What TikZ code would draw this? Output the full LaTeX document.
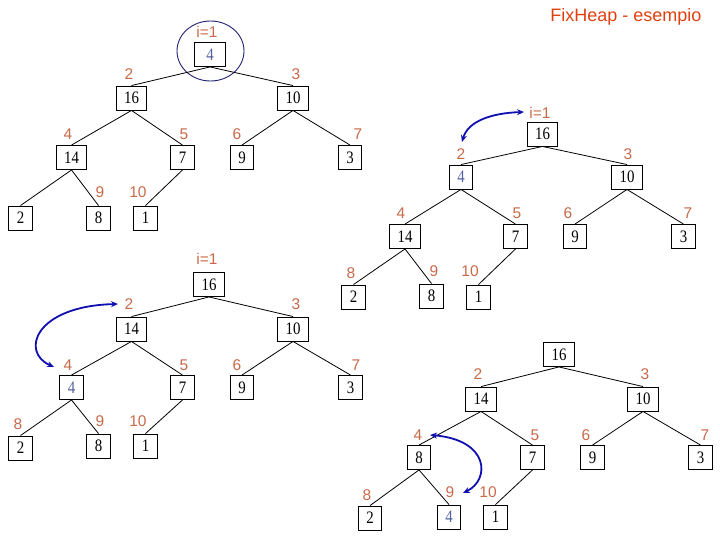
\documentclass[tikz,border=0pt]{standalone}
\usepackage{fontspec}
\usetikzlibrary{arrows.meta}
\newfontfamily\boxfont[FakeStretch=0.85]{Liberation Serif}
\newfontfamily\labfont{Liberation Sans}
\definecolor{labc}{HTML}{C86A4A}
\definecolor{titc}{HTML}{E04010}
\definecolor{keyc}{HTML}{5060A0}
\definecolor{arrc}{HTML}{1010B0}
\definecolor{circc}{HTML}{202070}
\tikzset{
  bx/.style={draw, line width=0.9pt, font=\boxfont\fontsize{17.5}{17.5}\selectfont,
    inner xsep=8pt, inner ysep=0pt, minimum height=24pt, minimum width=23pt,
    text height=11.5pt, text depth=0pt},
  key/.style={bx, text=keyc},
  lab/.style={font=\labfont\fontsize{15.5}{15.5}\selectfont, text=labc, inner sep=0pt},
  edge/.style={line width=0.8pt},
  swap/.style={line width=1.8pt, arrc, {Stealth[length=7pt,width=6pt]}-{Stealth[length=7pt,width=6pt]}}
}
\begin{document}
\begin{tikzpicture}[x=1pt,y=-1pt]
\useasboundingbox (0,0) rectangle (720,540);
% title
\node[font=\labfont\fontsize{18}{18}\selectfont, text=titc, inner sep=0pt] (title) at (626,17) {FixHeap - esempio};

% ---------- tree A ----------
\node[key, minimum width=31pt] (a1) at (210,54.5) {4};
\node[bx] (a2) at (131.5,98) {16};
\node[bx] (a3) at (293,98) {10};
\node[bx] (a4) at (71.5,157.5) {14};
\node[bx] (a5) at (182.5,157.5) {7};
\node[bx] (a6) at (242,157.5) {9};
\node[bx] (a7) at (350,157.5) {3};
\node[bx] (a8) at (20.5,218) {2};
\node[bx] (a9) at (98.5,218) {8};
\node[bx] (a10) at (145.5,218) {1};
\node[lab] (la1) at (207,32) {i=1};
\node[lab] (la2) at (129,74) {2};
\node[lab] (la3) at (296,74) {3};
\node[lab] (la4) at (68,134) {4};
\node[lab] (la5) at (184,134) {5};
\node[lab] (la6) at (237,134) {6};
\node[lab] (la7) at (358,134) {7};
\node[lab] (la9) at (100,192) {9};
\node[lab] (la10) at (138,192) {10};
\draw[circc, line width=0.9pt] (210.5,51) ellipse [x radius=33.5, y radius=30];
\foreach \p/\c in {a1/a2,a1/a3,a2/a4,a2/a5,a3/a6,a3/a7,a4/a8,a4/a9,a5/a10}
  \draw[edge] (\p.south) -- (\c.north);

% ---------- tree B ----------
\node[bx] (b1) at (542.5,134) {16};
\node[key] (b2) at (461,177) {4};
\node[bx] (b3) at (627,177) {10};
\node[bx] (b4) at (405,236.5) {14};
\node[bx] (b5) at (515.5,236.5) {7};
\node[bx] (b6) at (575,236.5) {9};
\node[bx] (b7) at (683.5,236.5) {3};
\node[bx] (b8) at (353.5,297) {2};
\node[bx] (b9) at (431.5,296) {8};
\node[bx] (b10) at (478.5,297) {1};
\node[lab] (lb1) at (540,113) {i=1};
\node[lab] (lb2) at (461,154) {2};
\node[lab] (lb3) at (628,154) {3};
\node[lab] (lb4) at (401,213) {4};
\node[lab] (lb5) at (517,213) {5};
\node[lab] (lb6) at (568,213) {6};
\node[lab] (lb7) at (688,213) {7};
\node[lab] (lb8) at (351,273) {8};
\node[lab] (lb9) at (434,271) {9};
\node[lab] (lb10) at (470,271) {10};
\foreach \p/\c in {b1/b2,b1/b3,b2/b4,b2/b5,b3/b6,b3/b7,b4/b8,b4/b9,b5/b10}
  \draw[edge] (\p.south) -- (\c.north);
\coordinate (bs) at (462,142);
\coordinate (be) at (524,112);
\draw[swap] (bs) .. controls (468,121) and (492,113) .. (be);

% ---------- tree C ----------
\node[bx] (c1) at (209,284.5) {16};
\node[bx] (c2) at (131.5,329) {14};
\node[bx] (c3) at (293,329) {10};
\node[key] (c4) at (71.5,387.5) {4};
\node[bx] (c5) at (182.5,387.5) {7};
\node[bx] (c6) at (242,387.5) {9};
\node[bx] (c7) at (350.5,387.5) {3};
\node[bx] (c8) at (20.5,448) {2};
\node[bx] (c9) at (98.5,446) {8};
\node[bx] (c10) at (145.5,446) {1};
\node[lab] (lc1) at (207,259) {i=1};
\node[lab] (lc2) at (129,304) {2};
\node[lab] (lc3) at (296,304) {3};
\node[lab] (lc4) at (68,365) {4};
\node[lab] (lc5) at (184,365) {5};
\node[lab] (lc6) at (237,365) {6};
\node[lab] (lc7) at (356,365) {7};
\node[lab] (lc8) at (18,424) {8};
\node[lab] (lc9) at (100,421) {9};
\node[lab] (lc10) at (138,421) {10};
\foreach \p/\c in {c1/c2,c1/c3,c2/c4,c2/c5,c3/c6,c3/c7,c4/c8,c4/c9,c5/c10}
  \draw[edge] (\p.south) -- (\c.north);
\coordinate (cs) at (54,367);
\coordinate (ce) at (118,304);
\draw[swap] (cs) .. controls (20,352) and (35,306) .. (ce);

% ---------- tree D ----------
\node[bx] (d1) at (559,354.5) {16};
\node[bx] (d2) at (481,399) {14};
\node[bx] (d3) at (643,399) {10};
\node[bx] (d4) at (419,457.5) {8};
\node[bx] (d5) at (532.5,457.5) {7};
\node[bx] (d6) at (592.5,457.5) {9};
\node[bx] (d7) at (700.5,457.5) {3};
\node[bx] (d8) at (370,518) {2};
\node[key] (d9) at (449,517) {4};
\node[bx] (d10) at (495.5,517) {1};
\node[lab] (ld2) at (478,374) {2};
\node[lab] (ld3) at (645,374) {3};
\node[lab] (ld4) at (418,435) {4};
\node[lab] (ld5) at (535,435) {5};
\node[lab] (ld6) at (586,435) {6};
\node[lab] (ld7) at (705,435) {7};
\node[lab] (ld8) at (367,495) {8};
\node[lab] (ld9) at (450,492) {9};
\node[lab] (ld10) at (488,492) {10};
\foreach \p/\c in {d1/d2,d1/d3,d2/d4,d2/d5,d3/d6,d3/d7,d4/d8,d4/d9,d5/d10}
  \draw[edge] (\p.south) -- (\c.north);
\coordinate (ds) at (463,493);
\coordinate (de) at (430,435);
\draw[swap] (ds) .. controls (490,480) and (490,440) .. (de);
\end{tikzpicture}
\end{document}
